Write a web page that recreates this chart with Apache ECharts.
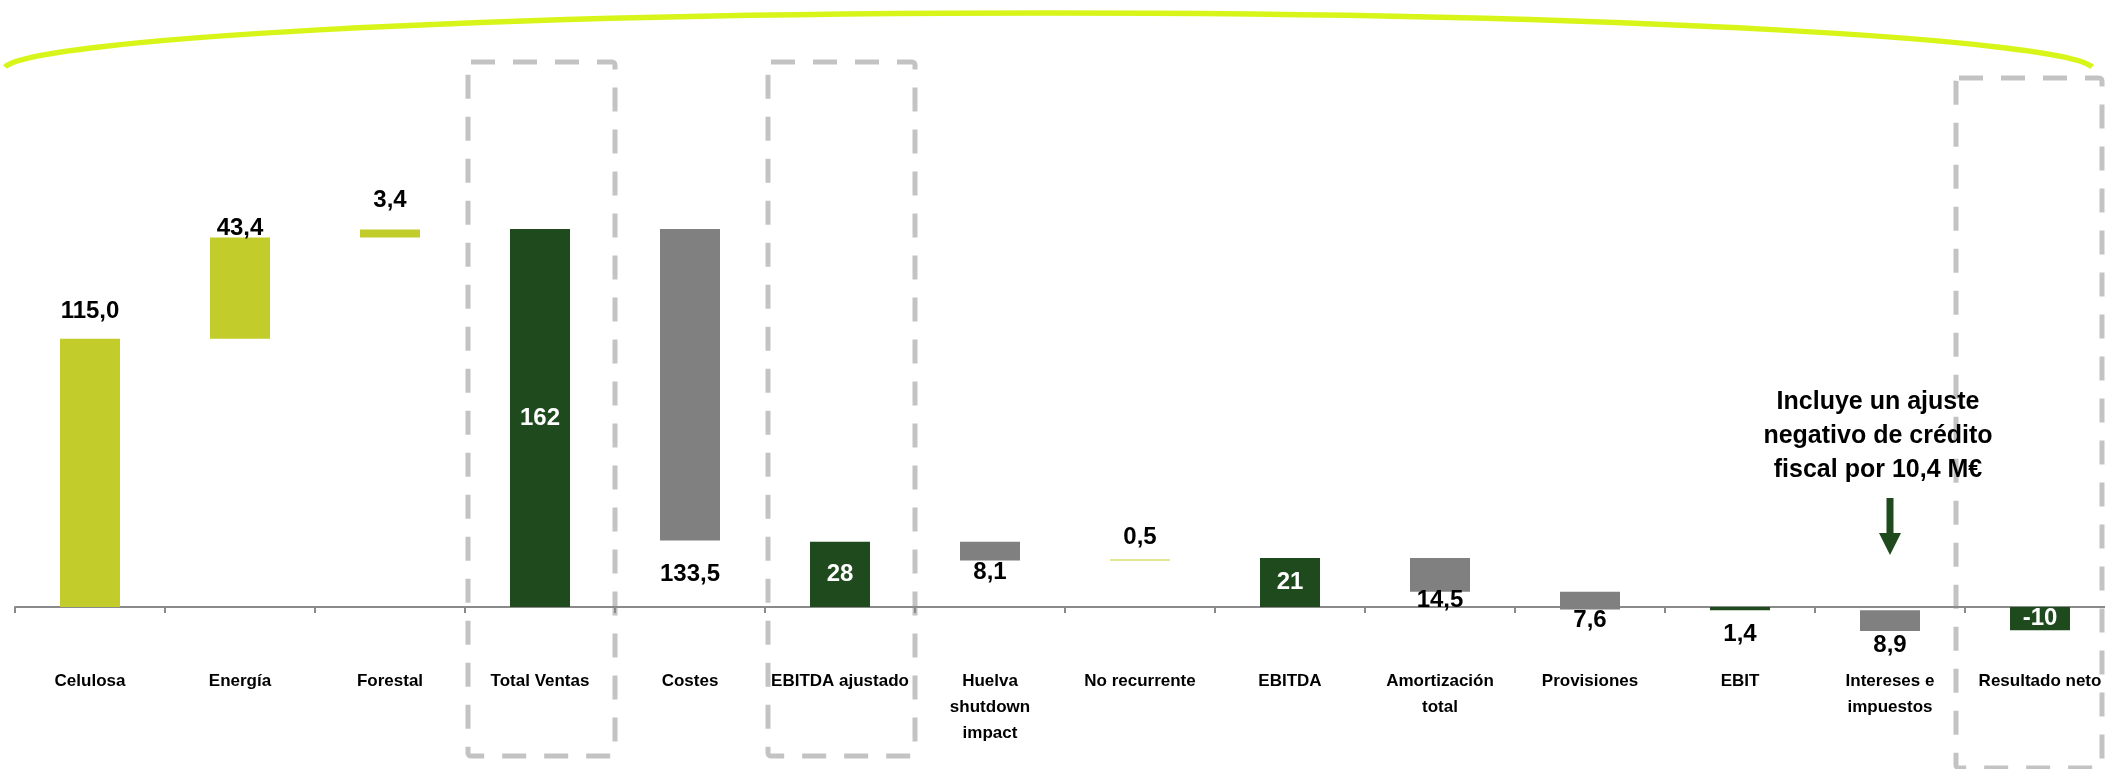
<!DOCTYPE html>
<html>
<head>
<meta charset="utf-8">
<script src="https://cdn.jsdelivr.net/npm/echarts@6/dist/echarts.min.js"></script>
<style>
html,body{margin:0;padding:0;background:#ffffff;}
#chart{width:2105px;height:769px;}
</style>
</head>
<body>
<div id="chart"></div>
<script>
// ---- data ----
var categories = ['Celulosa', 'Energía', 'Forestal', 'Total Ventas', 'Costes', 'EBITDA ajustado',
  'Huelva\nshutdown\nimpact', 'No recurrente', 'EBITDA', 'Amortización\ntotal', 'Provisiones', 'EBIT',
  'Intereses e\nimpuestos', 'Resultado neto'];
// change per step (deltas) or level for totals
var values = [115.0, 43.4, 3.4, 162, -133.5, 28, -8.1, 0.5, 21, -14.5, -7.6, -1.4, -8.9, -10];
// 'step' = floating change, 'total' = bar from zero
var kinds = ['step', 'step', 'step', 'total', 'step', 'total', 'step', 'step', 'total', 'step', 'step', 'total', 'step', 'total'];
var valueLabels = ['115,0', '43,4', '3,4', '162', '133,5', '28', '8,1', '0,5', '21', '14,5', '7,6', '1,4', '8,9', '-10'];
var annotationText = 'Incluye un ajuste\nnegativo de crédito\nfiscal por 10,4 M€';
var highlighted = ['Total Ventas', 'EBITDA ajustado', 'Resultado neto'];

// ---- layout / style config ----
var FONT = "'Liberation Sans', Arial, sans-serif";
var C_LIME = '#c2cd2b', C_DARK = '#1f4a1d', C_GREY = '#808080';
// label placement: [where, center offset px]
var labelPlace = [['top', 27], ['top', 9], ['top', 29], ['in', 0], ['bottom', 34], ['in', 0], ['bottom', 12],
  ['top', 22], ['in', 0], ['bottom', 9], ['bottom', 11], ['bottom', 24], ['bottom', 14], ['in', 0]];

// build waterfall ranges
var rows = [];
var run = 0;
for (var i = 0; i < values.length; i++) {
  var lo, hi;
  if (kinds[i] === 'total') { lo = 0; hi = values[i]; run = values[i]; }
  else { lo = run; hi = run + values[i]; run = hi; }
  rows.push([i, lo, hi]);
}
function colorOf(i) {
  if (kinds[i] === 'total') return C_DARK;
  return values[i] >= 0 ? C_LIME : C_GREY;
}

var chart = echarts.init(document.getElementById('chart'), null, {renderer: 'canvas'});
chart.setOption({
  animation: false,
  backgroundColor: '#ffffff',
  grid: {left: 15, top: 187, width: 2100, height: 455, containLabel: false, outerBoundsMode: 'none'},
  xAxis: {
    type: 'category',
    data: categories,
    axisLine: {onZero: true, lineStyle: {color: '#8a8a8a', width: 2}},
    axisTick: {show: true, length: 6, lineStyle: {color: '#8a8a8a', width: 2}},
    axisLabel: {interval: 0, margin: 26, color: '#000', fontFamily: FONT, fontWeight: 'bold', fontSize: 17, lineHeight: 26},
    splitLine: {show: false}
  },
  yAxis: {type: 'value', min: -15, max: 180, show: false, splitLine: {show: false}},
  series: [{
    type: 'custom',
    data: rows,
    encode: {x: 0, y: [1, 2]},
    clip: false,
    z: 5,
    renderItem: function (params, api) {
      var idx = params.dataIndex;
      var ci = api.value(0);
      var pLo = api.coord([ci, api.value(1)]);
      var pHi = api.coord([ci, api.value(2)]);
      var bw = api.size([1, 0])[0] * 0.4;
      var top = Math.min(pLo[1], pHi[1]);
      var bot = Math.max(pLo[1], pHi[1]);
      var h = Math.max(bot - top, 1.2);
      var cx = pLo[0];
      var place = labelPlace[idx];
      var ty, fill = '#000';
      if (place[0] === 'top') ty = top - place[1];
      else if (place[0] === 'bottom') ty = bot + place[1];
      else { ty = (top + bot) / 2; fill = '#fff'; }
      return {
        type: 'group',
        children: [
          {type: 'rect', shape: {x: cx - bw / 2, y: top, width: bw, height: h}, style: {fill: colorOf(idx)}},
          {type: 'text', z2: 10, style: {text: valueLabels[idx], x: cx, y: ty, align: 'center', verticalAlign: 'middle',
            fontFamily: FONT, fontWeight: 'bold', fontSize: 24, fill: fill}}
        ]
      };
    }
  }]
});

// decorations positioned from the axis scale
function cx(name) { return chart.convertToPixel({xAxisIndex: 0}, categories.indexOf(name)); }
var band = 150;
var graphics = [];
// top arc
graphics.push({type: 'bezierCurve', z: 1, shape: {x1: 5, y1: 67, cpx1: 30, cpy1: 40, cpx2: 470, cpy2: 13, x2: 1048, y2: 13},
  style: {stroke: '#d8f51a', lineWidth: 5.5, fill: null}});
graphics.push({type: 'bezierCurve', z: 1, shape: {x1: 1048, y1: 13, cpx1: 1626, cpy1: 13, cpx2: 2066, cpy2: 40, x2: 2092, y2: 67},
  style: {stroke: '#d8f51a', lineWidth: 5.5, fill: null}});
// dashed boxes
highlighted.forEach(function (name, k) {
  var c = cx(name);
  var last = k === highlighted.length - 1;
  var x0 = c - band * (last ? 0.56 : 0.48), x1 = Math.min(c + band * 0.5, 2102);
  var y0 = last ? 78 : 62, y1 = last ? 768 : 756;
  graphics.push({type: 'rect', z: 0, shape: {x: x0, y: y0, width: x1 - x0, height: y1 - y0, r: 3},
    style: {fill: null, stroke: '#c3c3c3', lineWidth: 5, lineDash: [24, 18]}});
});
// annotation + arrow
var ax = chart.convertToPixel({xAxisIndex: 0}, 12);
graphics.push({type: 'text', z: 10, style: {text: annotationText, x: ax - 12, y: 436, align: 'center', verticalAlign: 'middle',
  fontFamily: FONT, fontWeight: 'bold', fontSize: 25, lineHeight: 34, fill: '#000'}});
graphics.push({type: 'polygon', z: 10, shape: {points: [[ax - 3.5, 498], [ax + 3.5, 498], [ax + 3.5, 533], [ax + 11, 533],
  [ax, 555], [ax - 11, 533], [ax - 3.5, 533]]}, style: {fill: C_DARK}});
chart.setOption({graphic: graphics});
</script>
</body>
</html>
